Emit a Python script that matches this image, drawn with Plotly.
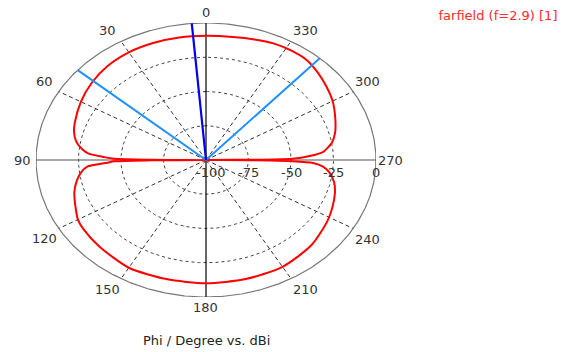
import numpy as np
import plotly.graph_objects as go

# ---------------- data ----------------
phi_deg = [0, 10, 20, 30, 40, 50, 60, 70, 75, 80, 84, 86, 88, 89, 89.6, 90,
           90.4, 91, 92, 94, 97, 101, 107, 115, 120, 125, 135, 150, 165, 180,
           195, 210, 225, 238, 245, 252, 258, 263, 266, 268, 269, 269.6, 270,
           270.4, 271, 272.7, 274.8, 277, 279.5, 284.5, 292, 300, 307, 314,
           321, 328, 335, 342, 350, 360]
gain_dbi = [-9.3, -9.2, -9.1, -9.2, -10.2, -12.3, -15.0, -18.0, -19.6, -22.5,
            -27.0, -30.5, -40.0, -46.0, -68.0, -100.0,
            -68.0, -46.0, -42.0, -30.0, -26.0, -22.7, -19.0, -15.5, -13.0,
            -12.0, -11.0, -9.2, -10.0, -10.0,
            -10.0, -10.0, -12.2, -15.8, -18.0, -20.3, -23.0, -27.0, -31.0,
            -37.0, -49.0, -70.0, -100.0,
            -70.0, -49.0, -39.0, -31.0, -28.0, -25.0, -21.6, -18.0, -14.0,
            -11.2, -8.4, -6.0, -5.7, -6.1, -7.5, -8.8, -9.3]

main_lobe_phi = 4.8
beamwidth_edges_phi = [49.0, 318.0]

angle_ticks = [0, 30, 60, 90, 120, 150, 180, 210, 240, 270, 300, 330]
radial_ticks = [-100, -75, -50, -25, 0]
r_min, r_max = -100.0, 0.0

title_text = "farfield (f=2.9) [1]"
axis_title_text = "Phi / Degree vs. dBi"

LABEL_FONT = dict(family="DejaVu Sans", size=13, color="#333333")


def to_xy(phi, db):
    phi = np.asarray(phi, dtype=float)
    db = np.clip(np.asarray(db, dtype=float), r_min, r_max)
    r = (db - r_min) / (r_max - r_min)
    t = np.radians(phi)
    return -r * np.sin(t), r * np.cos(t)


def to_paper(x, y):
    return (float(x) + 1) / 2, (float(y) + 1) / 2


def sgn(v):
    return 0 if abs(v) < 1e-9 else (1 if v > 0 else -1)


fig = go.Figure()
ring_phi = np.linspace(0, 360, 721)

# dotted grid circles
for v in radial_ticks[1:-1]:
    x, y = to_xy(ring_phi, np.full_like(ring_phi, v))
    fig.add_trace(go.Scatter(x=x, y=y, mode="lines", hoverinfo="skip",
                             line=dict(color="#444444", width=1, dash="3px,3px")))

# dashed spokes
sx, sy = [], []
for a in angle_ticks:
    if a % 90 == 0:
        continue
    x, y = to_xy([a, a], [r_min, r_max])
    sx += list(x) + [None]
    sy += list(y) + [None]
fig.add_trace(go.Scatter(x=sx, y=sy, mode="lines", hoverinfo="skip",
                         line=dict(color="#333333", width=1, dash="4px,3px")))

# outer ellipse
x, y = to_xy(ring_phi, np.full_like(ring_phi, r_max))
fig.add_trace(go.Scatter(x=x, y=y, mode="lines", hoverinfo="skip",
                         line=dict(color="#777777", width=1.2)))

# main axes
x, y = to_xy([90, 270], [r_max, r_max])
fig.add_trace(go.Scatter(x=x, y=y, mode="lines", hoverinfo="skip",
                         line=dict(color="#555555", width=1.2)))
x, y = to_xy([0, 180], [r_max, r_max])
fig.add_trace(go.Scatter(x=x, y=y, mode="lines", hoverinfo="skip",
                         line=dict(color="#000000", width=1.2)))

# farfield curve
x, y = to_xy(phi_deg, gain_dbi)
fig.add_trace(go.Scatter(x=x, y=y, mode="lines", name=title_text,
                         line=dict(color="#ff0000", width=2, shape="spline",
                                   smoothing=0.7)))

# beamwidth edges and main lobe direction
for a in beamwidth_edges_phi:
    x, y = to_xy([a, a], [r_min, r_max])
    fig.add_trace(go.Scatter(x=x, y=y, mode="lines", hoverinfo="skip",
                             line=dict(color="#1e90ff", width=2)))
x, y = to_xy([main_lobe_phi, main_lobe_phi], [r_min, r_max])
fig.add_trace(go.Scatter(x=x, y=y, mode="lines", hoverinfo="skip",
                         line=dict(color="#0000ee", width=2.2)))

# angle labels (just outside the outer ellipse)
for a in angle_ticks:
    ex, ey = to_xy([a], [r_max])
    px, py = to_paper(ex[0], ey[0])
    fig.add_annotation(x=px, y=py, xref="paper", yref="paper", text=str(a),
                       showarrow=False, xanchor="center", yanchor="middle",
                       xshift=14 * sgn(ex[0]), yshift=10.5 * sgn(ey[0]),
                       font=LABEL_FONT)

# radial labels along the 270 degree axis
for v in radial_ticks:
    x, y = to_xy([270], [v])
    px, py = to_paper(x[0], y[0])
    fig.add_annotation(x=px, y=py, xref="paper", yref="paper",
                       text=str(v), showarrow=False, yshift=-12,
                       xanchor="center", yanchor="middle",
                       xshift=5 if v == r_min else 0, font=LABEL_FONT)

fig.add_annotation(x=0.5, y=-0.157, xref="paper", yref="paper",
                   text=axis_title_text, showarrow=False, yanchor="middle",
                   font=dict(family="DejaVu Sans", size=13, color="#222222"))

fig.update_layout(
    width=573, height=352,
    margin=dict(l=36, r=197, t=23, b=55, autoexpand=False),
    paper_bgcolor="white", plot_bgcolor="white",
    showlegend=False,
    title=dict(text=title_text, x=498 / 573, y=1 - 15 / 352, xanchor="center",
               yanchor="middle", xref="container", yref="container",
               font=dict(family="DejaVu Sans", size=13, color="#ff2a2a")),
    xaxis=dict(range=[-1, 1], visible=False, fixedrange=True),
    yaxis=dict(range=[-1, 1], visible=False, fixedrange=True),
)

fig.write_html("out.html", config={"displayModeBar": False},
               post_script="document.body.style.margin='0';")
